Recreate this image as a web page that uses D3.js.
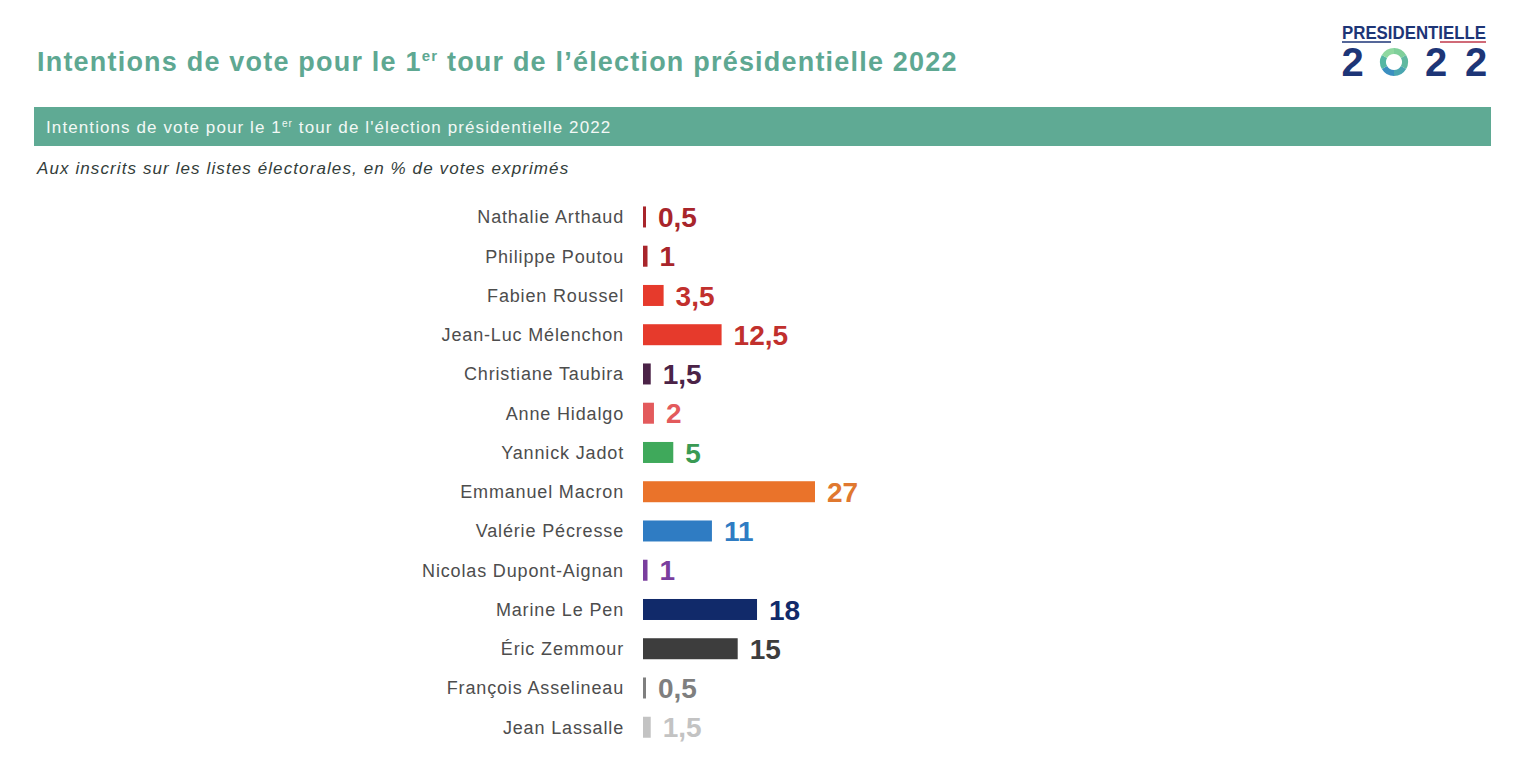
<!DOCTYPE html>
<html><head><meta charset="utf-8">
<script src="https://cdn.jsdelivr.net/npm/d3@7"></script>
<style>
html,body{margin:0;padding:0;background:#fff;}
svg{display:block;}
</style></head>
<body>
<svg id="chart" width="1536" height="773"></svg>
<script>
const candidates = ["Nathalie Arthaud","Philippe Poutou","Fabien Roussel","Jean-Luc Mélenchon","Christiane Taubira","Anne Hidalgo","Yannick Jadot","Emmanuel Macron","Valérie Pécresse","Nicolas Dupont-Aignan","Marine Le Pen","Éric Zemmour","François Asselineau","Jean Lassalle"];
const values = [0.5,1,3.5,12.5,1.5,2,5,27,11,1,18,15,0.5,1.5];
const barColors = ["#a8252b","#a8252b","#e63a2c","#e63a2c","#4b2347","#e35a5c","#3fa95b","#ea732a","#2f7cc3","#7a3e9e","#112a6a","#3d3d3d","#7f7f7f","#c3c3c3"];
const labelColors = ["#a8252b","#a8252b","#c1302d","#c1302d","#4b2347","#e35a5c","#3a9a53","#e0782f","#2f7cc3","#7a3e9e","#112a6a","#3d3d3d","#7f7f7f","#c3c3c3"];
const titleText = "Intentions de vote pour le 1";
const titleSup = "er";
const titleRest = " tour de l’élection présidentielle 2022";
const bannerRest = " tour de l'élection présidentielle 2022";
const subtitle = "Aux inscrits sur les listes électorales, en % de votes exprimés";
const fmt = v => String(v).replace(".", ",");

const svg = d3.select("#chart");
const teal = "#5ea892";

// Title
const t = svg.append("text").attr("x", 37).attr("y", 71)
  .attr("font-family", "Liberation Sans, Arial, sans-serif").attr("font-weight", "bold")
  .attr("font-size", 27).attr("letter-spacing", 1.2).attr("fill", teal);
t.append("tspan").text(titleText);
t.append("tspan").attr("font-size", 15).attr("dy", -10).text(titleSup);
t.append("tspan").attr("dy", 10).text(titleRest);

// Banner
svg.append("rect").attr("x", 34).attr("y", 107).attr("width", 1457).attr("height", 39).attr("fill", "#5faa94");
const b = svg.append("text").attr("x", 46).attr("y", 133)
  .attr("font-family", "Liberation Sans, Arial, sans-serif").attr("font-size", 17)
  .attr("letter-spacing", 1.1).attr("fill", "#f2f8f5");
b.append("tspan").text(titleText);
b.append("tspan").attr("font-size", 10).attr("dy", -6).text(titleSup);
b.append("tspan").attr("dy", 6).text(bannerRest);

// Subtitle
svg.append("text").attr("x", 37).attr("y", 174)
  .attr("font-family", "Liberation Sans, Arial, sans-serif").attr("font-style", "italic")
  .attr("font-size", 17).attr("letter-spacing", 1.1).attr("fill", "#333d3a").text(subtitle);

// Logo
const logo = svg.append("g");
logo.append("text").attr("x", 1342).attr("y", 39).attr("textLength", 144).attr("lengthAdjust", "spacingAndGlyphs")
  .attr("font-family", "Liberation Sans, Arial, sans-serif").attr("font-weight", "bold").attr("font-size", 19)
  .attr("fill", "#1d3577").text("PRESIDENTIELLE");
logo.append("line").attr("x1", 1342).attr("x2", 1391).attr("y1", 42).attr("y2", 42).attr("stroke", "#1d3577").attr("stroke-width", 1.5);
logo.append("line").attr("x1", 1440).attr("x2", 1486).attr("y1", 42).attr("y2", 42).attr("stroke", "#c0394a").attr("stroke-width", 1.5);
[[1352.5,"2"],[1436,"2"],[1476,"2"]].forEach(([x, s]) => {
  logo.append("text").attr("x", x).attr("y", 76).attr("text-anchor", "middle")
    .attr("font-family", "Liberation Sans, Arial, sans-serif").attr("font-weight", "bold").attr("font-size", 40)
    .attr("fill", "#1d3577").text(s);
});
const ringCols = ["#7fcf9a","#5fb9a0","#4aa6b0","#3b8fc0","#55b7a3","#8fd8a0"];
const arc = d3.arc().innerRadius(8).outerRadius(14);
const pie = d3.pie().sort(null).value(1)(ringCols);
logo.append("g").attr("transform", "translate(1394,62)").selectAll("path").data(pie).join("path")
  .attr("d", arc).attr("fill", (d, i) => ringCols[i]);

// Chart
const x0 = 643;
const x = d3.scaleLinear().domain([0.3, 27]).range([x0, x0 + 172]);
const y = d3.scaleBand().domain(candidates).range([188.2, 756]).padding(0.465);

const g = svg.append("g");
g.selectAll("text.cat").data(candidates).join("text").attr("class", "cat")
  .attr("x", 624).attr("y", d => y(d) + y.bandwidth() / 2).attr("dy", "0.35em")
  .attr("text-anchor", "end").attr("font-family", "Liberation Sans, Arial, sans-serif")
  .attr("font-size", 18).attr("letter-spacing", 0.85).attr("fill", "#4d4d4d").text(d => d);

g.selectAll("rect.bar").data(candidates).join("rect").attr("class", "bar")
  .attr("x", x0).attr("y", d => y(d))
  .attr("width", (d, i) => Math.max(3, x(values[i]) - x0))
  .attr("height", y.bandwidth()).attr("fill", (d, i) => barColors[i]);

g.selectAll("text.val").data(candidates).join("text").attr("class", "val")
  .attr("x", (d, i) => x0 + Math.max(3, x(values[i]) - x0) + 12)
  .attr("y", d => y(d) + y.bandwidth() / 2).attr("dy", "0.36em")
  .attr("font-family", "Liberation Sans, Arial, sans-serif").attr("font-weight", "bold")
  .attr("font-size", 28).attr("fill", (d, i) => labelColors[i]).text((d, i) => fmt(values[i]));
</script>
</body></html>
